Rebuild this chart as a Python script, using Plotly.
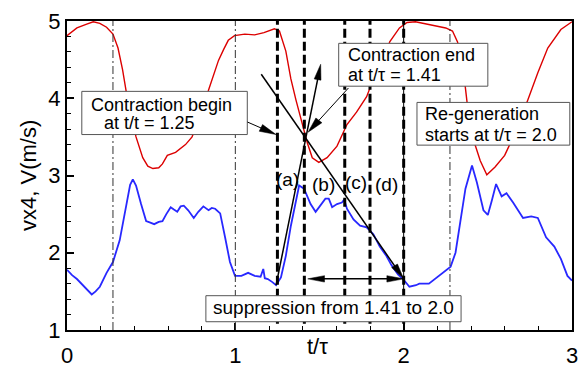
import math
import plotly.graph_objects as go

# ---------------- data ----------------
red_t = [0.0, 0.059, 0.117, 0.156, 0.195, 0.235, 0.273, 0.303, 0.33, 0.36, 0.41, 0.45, 0.48, 0.51,
         0.545, 0.567, 0.596, 0.645, 0.704, 0.743, 0.77, 0.80, 0.84, 0.87, 0.90, 0.93, 0.958, 0.995,
         1.056, 1.115, 1.17, 1.232, 1.262, 1.30, 1.33, 1.36, 1.40, 1.428, 1.457, 1.496, 1.545, 1.604,
         1.663, 1.72, 1.78, 1.82, 1.878, 1.917, 1.975, 2.02, 2.07, 2.17, 2.25, 2.29, 2.32, 2.35, 2.377,
         2.415, 2.455, 2.494, 2.543, 2.60, 2.66, 2.738, 2.797, 2.856, 2.934, 3.0]
red_v = [4.81, 4.91, 4.96, 4.99, 4.97, 4.92, 4.83, 4.65, 4.37, 3.98, 3.50, 3.23, 3.12, 3.09,
         3.10, 3.15, 3.26, 3.30, 3.40, 3.50, 3.65, 3.86, 4.10, 4.30, 4.49, 4.63, 4.75, 4.81,
         4.83, 4.82, 4.85, 4.90, 4.87, 4.61, 4.25, 3.98, 3.66, 3.42, 3.23, 3.17, 3.23, 3.38,
         3.66, 3.82, 4.02, 4.25, 4.45, 4.73, 4.91, 4.98, 4.99, 4.95, 4.91, 4.87, 4.73, 4.45, 3.94,
         3.46, 3.19, 3.01, 3.11, 3.26, 3.54, 3.98, 4.33, 4.65, 4.89, 4.99]

blue_t = [0.0, 0.03, 0.059, 0.09, 0.117, 0.147, 0.17, 0.195, 0.235, 0.273, 0.313, 0.352, 0.375, 0.391,
          0.41, 0.44, 0.47, 0.495, 0.518, 0.545, 0.567, 0.59, 0.616, 0.635, 0.655, 0.675, 0.694, 0.72,
          0.753, 0.78, 0.81, 0.841, 0.86, 0.88, 0.91, 0.939, 0.968, 0.998, 1.036, 1.076, 1.115, 1.15,
          1.166, 1.175, 1.193, 1.22, 1.242, 1.271, 1.30, 1.33, 1.36, 1.379, 1.408, 1.447, 1.477, 1.506,
          1.535, 1.555, 1.575, 1.604, 1.633, 1.647, 1.663, 1.702, 1.741, 1.78, 1.82, 1.858, 1.897, 1.927,
          1.966, 2.0, 2.034, 2.073, 2.093, 2.15, 2.21, 2.279, 2.308, 2.337, 2.367, 2.406, 2.435, 2.474,
          2.50, 2.523, 2.549, 2.582, 2.611, 2.65, 2.709, 2.758, 2.797, 2.846, 2.895, 2.934, 2.973, 3.0]
blue_v = [1.78, 1.71, 1.66, 1.59, 1.52, 1.46, 1.50, 1.56, 1.74, 1.88, 2.16, 2.63, 2.88, 2.95,
          2.87, 2.63, 2.41, 2.39, 2.37, 2.40, 2.41, 2.50, 2.59, 2.56, 2.53, 2.60, 2.61, 2.55,
          2.45, 2.53, 2.60, 2.55, 2.58, 2.57, 2.51, 2.20, 1.88, 1.70, 1.70, 1.74, 1.70, 1.69,
          1.79, 1.67, 1.66, 1.62, 1.58, 1.68, 1.96, 2.35, 2.67, 2.87, 2.83, 2.63, 2.53, 2.61,
          2.70, 2.70, 2.59, 2.63, 2.65, 2.69, 2.57, 2.43, 2.35, 2.33, 2.24, 2.08, 1.96, 1.84,
          1.72, 1.65, 1.56, 1.58, 1.60, 1.60, 1.70, 1.82, 2.00, 2.39, 2.83, 3.13, 2.91, 2.55,
          2.49, 2.67, 2.89, 2.73, 2.77, 2.65, 2.45, 2.47, 2.45, 2.20, 2.08, 1.92, 1.70, 1.64]

period_lines = [0.273, 1.0, 2.275]          # thin dash-dot markers
stage_lines = [1.25, 1.41, 1.65, 1.80, 2.0]  # thick dashed markers
stage_labels = ["(a)", "(b)", "(c)", "(d)"]
stage_label_pos = [(1.312, 2.945), (1.526, 2.889), (1.718, 2.909), (1.900, 2.889)]

x_ticks = [0, 1, 2, 3]
y_ticks = [1, 2, 3, 4, 5]

# ---------------- layout geometry ----------------
W, H = 587, 377
ML, MR, MT, MB = 67, 9, 14, 26
X_RANGE = [0, 3]
Y_RANGE = [1, 5]
PW, PH = W - ML - MR, H - MT - MB
SX = PW / (X_RANGE[1] - X_RANGE[0])
SY = PH / (Y_RANGE[1] - Y_RANGE[0])

FONT = "Liberation Sans, Arial, sans-serif"

fig = go.Figure()
fig.add_trace(go.Scatter(x=red_t, y=red_v, mode="lines", line=dict(color="rgb(220,0,0)", width=1.4),
                         showlegend=False, hoverinfo="skip"))
fig.add_trace(go.Scatter(x=blue_t, y=blue_v, mode="lines", line=dict(color="rgb(40,40,255)", width=1.8),
                         showlegend=False, hoverinfo="skip"))

shapes = []
for t in period_lines:
    shapes.append(dict(type="line", xref="x", yref="y", x0=t, x1=t, y0=1, y1=5, layer="above",
                       line=dict(color="#333333", width=1, dash="8px,3px,2px,3px")))
shapes.append(dict(type="line", xref="x", yref="y", x0=2.0, x1=2.0, y0=1, y1=5, layer="above",
                   line=dict(color="black", width=1)))
for t in stage_lines:
    shapes.append(dict(type="line", xref="x", yref="y", x0=t, x1=t, y0=1.08, y1=5, layer="above",
                       line=dict(color="black", width=3, dash="9px,4px")))


def arrow(x0, y0, x1, y1, width, head_len=17, head_w=7, both=False):
    dxp = (x1 - x0) * SX
    dyp = (y1 - y0) * SY
    L = math.hypot(dxp, dyp)
    ux, uy = dxp / L, dyp / L
    nx, ny = -uy, ux
    out = []

    def head(tx, ty, sx, sy):
        bx, by = -sx * head_len, -sy * head_len
        p1 = (tx + (bx + nx * head_w / 2) / SX, ty + (by + ny * head_w / 2) / SY)
        p2 = (tx + (bx - nx * head_w / 2) / SX, ty + (by - ny * head_w / 2) / SY)
        path = f"M {tx},{ty} L {p1[0]},{p1[1]} L {p2[0]},{p2[1]} Z"
        out.append(dict(type="path", xref="x", yref="y", path=path, layer="above",
                        fillcolor="black", line=dict(color="black", width=0.5)))
        return tx - sx * (head_len - 2) / SX, ty - sy * (head_len - 2) / SY

    ex, ey = head(x1, y1, ux, uy)
    sx_, sy_ = x0, y0
    if both:
        sx_, sy_ = head(x0, y0, -ux, -uy)
    out.insert(0, dict(type="line", xref="x", yref="y", x0=sx_, y0=sy_, x1=ex, y1=ey, layer="above",
                       line=dict(color="black", width=width)))
    return out


# boxes
boxes = [
    (0.088, 1.071, 3.530, 4.089),
    (1.614, 2.500, 4.156, 4.711),
    (2.079, 2.987, 3.393, 3.946),
    (0.825, 2.341, 1.107, 1.444),
]
for x0, x1, y0, y1 in boxes:
    shapes.append(dict(type="rect", xref="x", yref="y", x0=x0, x1=x1, y0=y0, y1=y1, layer="above",
                       fillcolor="white", line=dict(color="#555555", width=1)))

shapes += arrow(1.242, 1.58, 1.507, 4.44, 1.5)
shapes += arrow(1.154, 4.31, 2.0, 1.662, 1.5)
shapes += arrow(1.072, 3.692, 1.242, 3.530, 1.0, head_len=17, head_w=8)
shapes += arrow(1.672, 4.133, 1.432, 3.56, 1.0, head_len=17, head_w=8)
shapes += arrow(1.43, 1.662, 2.0, 1.662, 1.5, both=True)

annotations = []
box_text = [
    ("Contraction begin", 0.135, 3.912),
    ("at t/t = 1.25", 0.215, 3.675),
    ("Contraction end", 1.663, 4.565),
    ("at t/\u03c4 = 1.41", 1.663, 4.300),
    ("Re-generation", 2.122, 3.793),
    ("starts at t/\u03c4 = 2.0", 2.122, 3.528),
]
for txt, x, y in box_text:
    annotations.append(dict(text=txt, x=x, y=y, xref="x", yref="y", xanchor="left", yanchor="middle",
                            showarrow=False, borderpad=0, font=dict(family=FONT, size=18, color="black")))
annotations.append(dict(text="suppression from 1.41 to 2.0", x=1.583, y=1.285, xref="x", yref="y",
                        xanchor="center", yanchor="middle", showarrow=False, borderpad=0,
                        font=dict(family=FONT, size=19, color="black")))
for lab, (x, y) in zip(stage_labels, stage_label_pos):
    annotations.append(dict(text=lab, x=x, y=y, xref="x", yref="y", xanchor="center", yanchor="middle",
                            showarrow=False, borderpad=0, font=dict(family=FONT, size=19, color="black")))
annotations.append(dict(text="vx4, V(m/s)", textangle=-90, x=(28 - ML) / PW, y=0.5, xref="paper",
                        yref="paper", xanchor="center", yanchor="middle", showarrow=False,
                        font=dict(family=FONT, size=22, color="black")))
annotations.append(dict(text="t/\u03c4", x=(320.7 - ML) / PW, y=(351 - 369) / PH, xref="paper",
                        yref="paper", xanchor="center", yanchor="middle", showarrow=False,
                        font=dict(family=FONT, size=22, color="black")))

axis_common = dict(showgrid=False, zeroline=False, showline=True, linecolor="black", linewidth=2,
                   mirror=True, ticks="inside", ticklen=7, tickwidth=1.5, tickcolor="black",
                   tickfont=dict(family=FONT, size=22, color="black"))
fig.update_layout(
    width=W, height=H, margin=dict(l=ML, r=MR, t=MT, b=MB),
    paper_bgcolor="white", plot_bgcolor="white",
    xaxis=dict(range=X_RANGE, tickvals=x_ticks, ticktext=[str(v) for v in x_ticks],
               ticklabelstandoff=5,
               minor=dict(dtick=0.2, ticks="inside", ticklen=4, tickwidth=1, tickcolor="black"),
               **axis_common),
    yaxis=dict(range=Y_RANGE, tickvals=y_ticks, ticktext=[str(v) for v in y_ticks],
               minor=dict(dtick=0.2, ticks="inside", ticklen=4, tickwidth=1, tickcolor="black"),
               **axis_common),
    shapes=shapes, annotations=annotations, showlegend=False,
)
fig.write_html("out.html")
